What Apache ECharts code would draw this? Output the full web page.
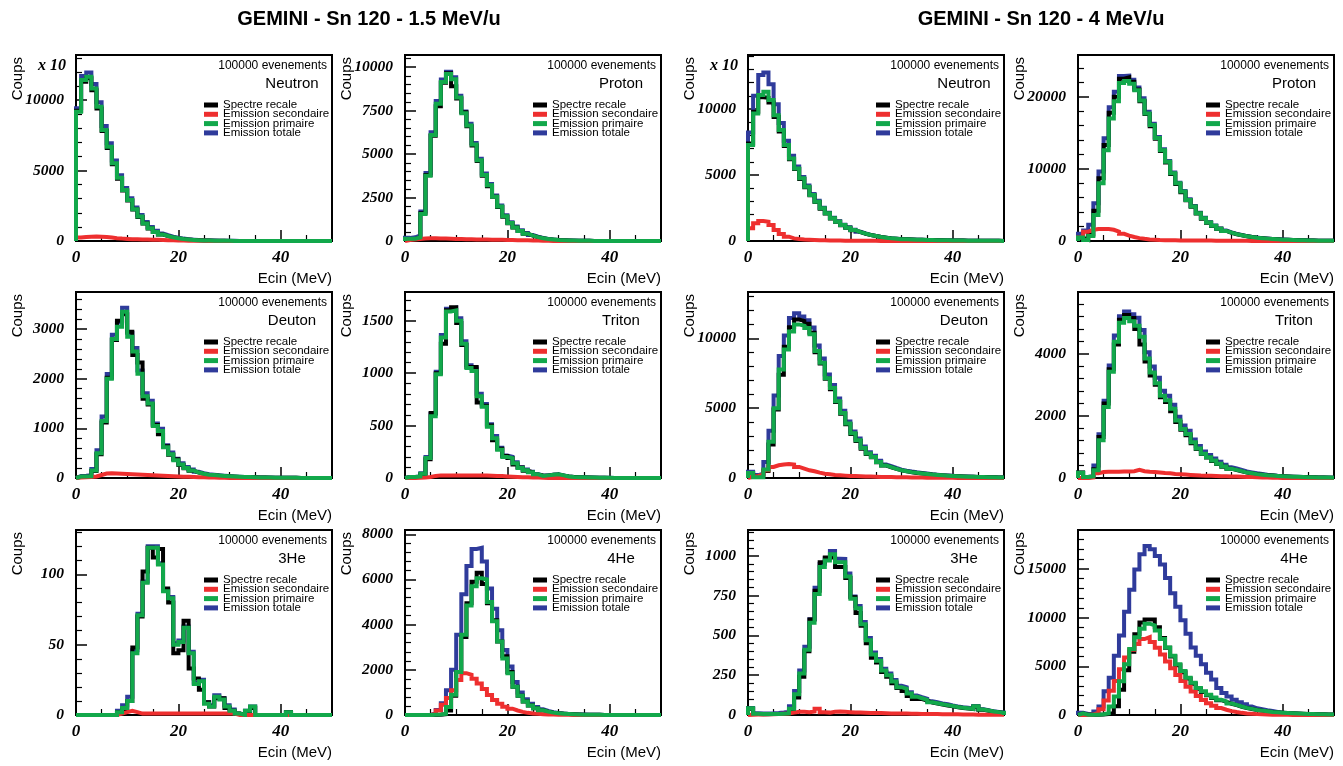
<!DOCTYPE html>
<html><head><meta charset="utf-8">
<script src="https://cdn.jsdelivr.net/npm/echarts@6/dist/echarts.min.js"></script>
<style>html,body{margin:0;padding:0;background:#fff}#c{width:1343px;height:766px}</style>
</head><body><div id="c"></div>
<script>
// ---------- data ----------
const binEdges = [0,1,2,3,4,5,6,7,8,9,10,11,12,13,14,15,16,17,18,19,20,21,22,23,24,25,26,27,28,29,30,31,32,33,34,35,36,37,38,39,40,41,42,43,44,45,46,47,48,49,50];
const mainTitles = ['GEMINI - Sn 120 - 1.5 MeV/u', 'GEMINI - Sn 120 - 4 MeV/u'];
const eventLabel = '100000 evenements';
const particles = ['Neutron','Proton','Neutron','Proton','Deuton','Triton','Deuton','Triton','3He','4He','3He','4He'];
const seriesNames = ['Spectre recale','Emission secondaire','Emission primaire','Emission totale'];
const xTickStep = 20;
const yTickStep = [5000, 2500, 5000, 10000, 1000, 500, 5000, 2000, 50, 2000, 250, 5000];
const yTop = [13200, 10700, 14100, 25800, 3750, 1775, 13320, 5990, 131.6, 8190, 1162, 18990];
const scaleNote = 'x 10';

const N15_recale = [9250,11300,11550,10700,9400,7800,6600,5450,4420,3580, 2880,2230,1700,1240,890,630,460,350,255,185, 135,98,72,53,39,29,21,15,11,8, 6,5,4,3,2,2,1,1,1,0, 0,0,0,0,0,0,0,0,0,0];
const N15_secondaire = [250,290,310,320,310,290,250,200,170,150, 130,120,110,100,90,80,70,60,50,40, 30,25,20,15,10,8,6,5,4,3, 2,2,1,1,0,0,0,0,0,0, 0,0,0,0,0,0,0,0,0,0];
const N15_primaire = [9170,11420,11650,10830,9530,7870,6690,5510,4490,3620, 2910,2250,1730,1250,900,640,470,355,260,190, 140,100,75,55,40,30,22,16,12,9, 7,5,4,3,2,2,1,1,1,0, 0,0,0,0,0,0,0,0,0,0];
const N15_totale = [9420,11710,11960,11150,9840,8160,6940,5710,4660,3770, 3040,2370,1840,1350,990,720,540,415,310,230, 170,125,95,70,50,38,28,21,16,12, 9,7,5,4,2,2,1,1,1,0, 0,0,0,0,0,0,0,0,0,0];

const P15_recale = [120,120,190,1600,3800,6050,7750,9100,9650,8900, 8200,7400,6600,5500,4600,3750,3150,2550,1950,1400, 1020,770,570,415,305,215,155,108,78,54, 39,29,21,15,11,8,6,5,4,3, 2,2,1,1,1,0,0,0,0,0];
const P15_secondaire = [50,80,120,150,160,160,150,140,130,120, 110,100,95,90,85,80,75,70,65,60, 55,50,45,40,32,24,16,10,5,2, 1,0,0,0,0,0,0,0,0,0, 0,0,0,0,0,0,0,0,0,0];
const P15_primaire = [130,130,200,1550,3750,6100,7900,9150,9600,9300, 8250,7350,6650,5550,4650,3800,3200,2550,1980,1420, 1030,780,580,420,310,220,160,110,80,55, 40,30,22,16,12,9,7,5,4,3, 2,2,1,1,1,0,0,0,0,0];
const P15_totale = [180,210,320,1700,3910,6260,8050,9290,9730,9420, 8360,7450,6745,5640,4735,3880,3275,2620,2045,1480, 1085,830,625,460,342,244,176,120,85,57, 41,30,22,16,12,9,7,5,4,3, 2,2,1,1,1,0,0,0,0,0];

const N4_recale = [7400,9800,10900,10850,10500,9400,8300,7200,6200,5450, 4700,4080,3460,2950,2450,2080,1700,1450,1200,1000, 820,670,550,450,375,298,248,198,168,138, 128,113,99,89,79,69,61,54,47,41, 36,31,27,23,20,17,14,12,10,8];
const N4_secondaire = [960,1340,1515,1465,1210,830,530,330,200,150, 110,90,75,62,52,45,38,32,27,23, 20,17,14,12,10,8,7,6,5,4, 3,3,2,2,1,1,1,0,0,0, 0,0,0,0,0,0,0,0,0,0];
const N4_primaire = [7270,9670,11060,11310,10680,9540,8410,7270,6260,5500, 4750,4115,3485,2980,2475,2100,1720,1465,1210,1010, 830,680,555,455,380,300,250,200,170,140, 130,115,100,90,80,70,62,55,48,42, 37,32,28,24,21,18,15,13,11,9];
const N4_totale = [8230,11010,12575,12775,11890,10370,8940,7600,6460,5650, 4860,4205,3560,3042,2527,2145,1758,1497,1237,1033, 850,697,569,467,390,308,257,206,175,144, 133,118,102,92,81,71,63,55,48,42, 37,32,28,24,21,18,15,13,11,9];

const P4_recale = [450,200,900,4200,8700,13300,17800,20000,22500,22700, 22100,21000,19400,17600,15900,14200,12500,10900,9300,7900, 6750,5650,4750,3800,3100,2520,2080,1690,1390,1140, 940,790,650,545,455,385,325,275,228,188, 158,128,108,88,73,59,49,39,31,24];
const P4_secondaire = [500,1300,1550,1650,1650,1650,1550,1300,1000,750, 550,400,300,220,170,130,110,100,90,85, 80,75,70,65,60,55,50,45,40,35, 30,25,20,15,12,10,8,6,5,4, 3,2,1,1,0,0,0,0,0,0];
const P4_primaire = [500,150,700,3600,8000,12600,17000,19400,21900,22200, 21800,20900,19500,17700,16100,14300,12600,11000,9400,8000, 6850,5700,4800,3850,3150,2550,2100,1700,1400,1150, 950,800,660,550,460,390,330,280,230,190, 160,130,110,90,75,60,50,40,32,25];
const P4_totale = [1000,1450,2250,5250,9650,14250,18550,20700,22900,22950, 22350,21300,19800,17920,16270,14430,12710,11100,9490,8085, 6930,5775,4870,3915,3210,2605,2150,1745,1440,1185, 980,825,680,565,472,400,338,286,235,194, 163,132,111,91,75,60,50,40,32,25];

const D15_recale = [25,25,30,140,480,1120,2020,2780,3170,3300, 2950,2480,2330,1600,1480,1070,880,640,470,380, 260,195,148,108,83,63,55,45,38,32, 27,22,19,16,13,11,9,7,6,5, 4,3,3,2,2,1,1,1,0,0];
const D15_secondaire = [10,15,20,30,60,90,95,90,85,80, 75,70,65,60,55,50,45,40,35,30, 27,24,20,17,14,11,8,6,4,2, 1,0,0,0,0,0,0,0,0,0, 0,0,0,0,0,0,0,0,0,0];
const D15_primaire = [30,30,35,150,500,1150,2000,2800,3050,3350, 2850,2550,2100,1650,1500,1050,950,620,480,360, 270,200,150,110,85,65,60,50,42,36, 30,25,21,18,15,12,10,8,7,6, 5,4,3,2,2,1,1,1,0,0];
const D15_totale = [40,45,55,180,560,1240,2095,2890,3135,3430, 2925,2620,2165,1710,1555,1100,995,660,515,390, 297,224,170,127,99,76,68,56,46,38, 31,25,21,18,15,12,10,8,7,6, 5,4,3,2,2,1,1,1,0,0];

const T15_recale = [8,8,12,35,180,620,1000,1280,1600,1630, 1480,1270,1060,1060,720,690,500,360,280,210, 190,130,100,70,55,30,25,22,30,30, 22,14,10,7,5,4,3,2,2,1, 1,1,0,0,0,0,0,0,0,0];
const T15_secondaire = [0,0,2,5,10,20,25,25,25,25, 25,25,25,25,25,25,22,20,18,15, 12,10,8,6,5,4,2,1,0,0, 0,0,0,0,0,0,0,0,0,0, 0,0,0,0,0,0,0,0,0,0];
const T15_primaire = [10,10,15,40,190,590,990,1340,1590,1600, 1500,1280,1050,1020,780,680,490,380,270,200, 190,140,95,75,55,35,20,25,30,35, 25,15,10,8,6,5,4,3,2,2, 1,1,1,0,0,0,0,0,0,0];
const T15_totale = [10,10,17,45,200,610,1015,1365,1615,1625, 1525,1305,1075,1045,805,705,512,400,288,215, 202,150,103,81,60,39,22,26,30,35, 25,15,10,8,6,5,4,3,2,2, 1,1,1,0,0,0,0,0,0,0];

const D4_recale = [330,100,80,500,2400,4900,7400,9400,10800,11350, 11250,11050,10400,9000,8200,7100,6350,5450,4600,3850, 3150,2650,2100,1720,1480,1130,890,770,650,545, 475,415,365,325,285,245,215,188,163,143, 123,108,94,84,74,64,54,47,41,35];
const D4_secondaire = [100,150,250,550,790,910,960,1010,960,790, 670,550,480,385,310,265,215,190,170,150, 135,120,110,100,90,80,72,65,58,52, 46,40,35,30,26,22,18,15,12,10, 8,6,5,4,3,2,2,1,1,0];
const D4_primaire = [350,60,50,600,2600,5000,7770,9200,10500,11000, 10900,10750,10300,9100,8250,7150,6450,5500,4650,3900, 3200,2700,2150,1750,1500,1150,900,780,660,550, 480,420,370,330,290,250,220,190,165,145, 125,110,95,85,75,65,55,48,42,36];
const D4_totale = [450,210,300,1150,3390,5910,8730,10210,11460,11790, 11570,11300,10780,9485,8560,7415,6665,5690,4820,4050, 3335,2820,2260,1850,1590,1230,972,845,718,602, 526,460,405,360,316,272,238,205,177,155, 133,116,100,89,78,67,57,49,43,36];

const T4_recale = [180,20,40,280,1320,2400,3500,4300,5100,5250, 5150,4800,4300,3750,3300,3000,2600,2450,2150,1800, 1550,1380,1120,930,770,660,550,450,365,300, 255,215,172,147,123,106,90,78,67,57, 49,42,36,30,26,21,18,15,12,10];
const T4_secondaire = [0,0,20,150,190,200,200,200,210,210, 220,260,220,200,190,180,160,150,130,120, 110,100,90,80,75,70,65,60,55,50, 45,40,35,30,25,20,15,10,5,3, 2,1,0,0,0,0,0,0,0,0];
const T4_primaire = [170,30,50,250,1215,2290,3420,4390,5000,5150, 5050,4900,4550,3850,3400,3050,2650,2500,2230,1850, 1580,1420,1150,950,780,670,560,460,370,300, 260,220,175,150,125,108,92,80,68,58, 50,43,37,31,27,22,19,16,13,11];
const T4_totale = [170,30,70,400,1405,2490,3620,4590,5210,5360, 5270,5160,4770,4050,3590,3230,2810,2650,2360,1970, 1690,1520,1240,1030,855,740,625,520,425,350, 305,260,210,180,150,128,107,90,73,61, 52,44,37,31,27,22,19,16,13,11];

const He3_15_recale = [0,0,0,0,0,0,0,0,2,4, 10,48,70,102,119,112,118,90,80,44, 46,67,33,26,18,9,6,12,12,5, 3,1,0,1,5,0,0,0,0,0, 0,2,0,0,0,0,0,0,0,0];
const He3_15_secondaire = [0,0,0,0,0,0,0,0,1,2, 3,2,1,1,1,1,1,1,1,1, 1,1,1,1,1,1,1,1,1,1, 1,0,0,0,0,0,0,0,0,0, 0,0,0,0,0,0,0,0,0,0];
const He3_15_primaire = [0,0,0,0,0,0,0,0,2,5, 10,44,71,94,119,119,107,88,83,50, 52,62,44,22,24,8,6,13,11,6, 3,1,0,3,6,0,0,0,0,0, 0,2,0,0,0,0,0,0,0,0];
const He3_15_totale = [0,0,0,0,0,0,0,0,3,7, 13,46,72,95,120,120,108,89,84,51, 53,63,45,23,25,9,7,14,12,7, 4,1,0,3,6,0,0,0,0,0, 0,2,0,0,0,0,0,0,0,0];

const He4_15_recale = [0,0,0,0,0,5,15,40,200,850, 1900,3450,4950,5900,6300,5800,4950,4200,3250,2600, 1900,1250,850,600,420,300,210,150,105,75, 55,40,28,20,15,11,8,6,4,3, 2,1,1,0,0,0,0,0,0,0];
const He4_15_secondaire = [0,0,0,0,0,60,200,450,750,1100, 1550,1850,1780,1600,1400,1150,880,660,500,370, 280,200,140,95,70,50,36,26,18,13, 9,6,4,3,2,1,1,0,0,0, 0,0,0,0,0,0,0,0,0,0];
const He4_15_primaire = [0,0,0,0,0,10,20,50,350,900, 1900,3550,4850,5700,6050,6000,5000,4150,3250,2500, 1850,1250,850,600,420,300,210,150,105,75, 55,40,28,20,15,11,8,6,4,3, 2,1,1,0,0,0,0,0,0,0];
const He4_15_totale = [0,0,0,0,0,70,220,520,1100,2000, 3550,5350,6600,7350,7400,6800,5600,4700,3750,2880, 2150,1460,1000,700,500,350,250,176,123,88, 64,46,32,23,17,12,9,6,4,3, 2,1,1,0,0,0,0,0,0,0];

const He3_4_recale = [40,6,5,5,6,6,7,9,30,110, 240,400,600,780,960,990,990,930,930,860, 740,640,560,450,360,330,270,240,200,170, 150,120,100,100,90,78,72,66,60,54, 48,44,40,37,52,33,27,21,17,13];
const He3_4_secondaire = [2,3,3,4,5,6,8,10,15,20, 20,18,22,40,18,15,20,22,20,18, 15,15,14,13,12,12,11,10,10,9, 9,8,8,7,7,6,6,5,5,4, 4,3,3,3,2,2,2,1,1,1];
const He3_4_primaire = [42,8,6,6,6,7,8,10,40,130, 260,410,580,760,930,970,1010,960,960,870, 730,670,570,470,380,340,280,250,210,175, 165,135,115,105,95,80,74,68,62,56, 50,46,42,38,55,34,28,22,18,14];
const He3_4_totale = [44,11,9,10,11,13,16,20,55,150, 280,428,602,800,948,985,1030,982,980,888, 745,685,584,483,392,352,291,260,220,184, 174,143,123,112,102,86,80,73,67,60, 54,49,45,41,57,36,30,23,19,15];

const He4_4_recale = [150,20,20,20,50,100,200,900,2600,4600, 6500,8300,9500,9800,9800,9000,7900,6900,6000,5100, 4400,3750,3200,2700,2350,2020,1750,1520,1350,1150, 1010,850,710,610,510,440,370,305,275,235, 205,175,148,128,108,93,78,68,58,48];
const He4_4_secondaire = [0,0,50,250,600,1500,2500,3500,4700,5900, 6700,7300,7800,8000,7500,6900,6200,5500,4800,4100, 3500,2900,2400,1950,1550,1200,950,720,540,400, 300,220,160,120,90,65,48,35,25,18, 13,9,6,4,3,2,1,1,0,0];
const He4_4_primaire = [170,30,30,30,80,170,870,1900,3470,5200, 6770,7990,8850,9370,9200,8680,7810,6940,6080,5210, 4510,3820,3300,2780,2430,2080,1800,1560,1390,1180, 1040,870,730,625,520,450,380,310,280,240, 210,180,150,130,110,95,80,70,60,50];
const He4_4_totale = [243,100,120,347,868,2430,3820,6080,8160,10590, 12850,14930,16490,17360,17010,16320,15450,14060,12500,11110, 9720,8330,6940,6080,5210,4340,3650,2780,2260,1910, 1560,1320,1110,870,690,590,490,420,310,240, 175,150,120,100,80,65,50,40,30,25];

// panels in row-major order: [recale, secondaire, primaire, totale]
const panelData = [
  [N15_recale, N15_secondaire, N15_primaire, N15_totale],
  [P15_recale, P15_secondaire, P15_primaire, P15_totale],
  [N4_recale, N4_secondaire, N4_primaire, N4_totale],
  [P4_recale, P4_secondaire, P4_primaire, P4_totale],
  [D15_recale, D15_secondaire, D15_primaire, D15_totale],
  [T15_recale, T15_secondaire, T15_primaire, T15_totale],
  [D4_recale, D4_secondaire, D4_primaire, D4_totale],
  [T4_recale, T4_secondaire, T4_primaire, T4_totale],
  [He3_15_recale, He3_15_secondaire, He3_15_primaire, He3_15_totale],
  [He4_15_recale, He4_15_secondaire, He4_15_primaire, He4_15_totale],
  [He3_4_recale, He3_4_secondaire, He3_4_primaire, He3_4_totale],
  [He4_4_recale, He4_4_secondaire, He4_4_primaire, He4_4_totale]
];

// ---------- layout / style ----------
const colLeft = [76, 405, 748, 1078];
const rowTop = [55, 292, 530];
const rowH = [186, 186, 185];
const plotW = 256;
const seriesColors = ['#000000', '#ee2f2f', '#12a84b', '#2f3b9b'];
const drawOrder = [3, 0, 1, 2]; // totale, recale, secondaire, primaire (primaire on top)
const serifBI = {fontFamily: 'Liberation Serif', fontStyle: 'italic', fontWeight: 'bold', color: '#000'};
const plainNumber = v => String(v);

function stepData(vals) {
  const pts = [[binEdges[0], 0]];
  for (let i = 0; i < vals.length; i++) pts.push([binEdges[i], vals[i]]);
  pts.push([binEdges[vals.length], vals[vals.length - 1]]);
  pts.push([binEdges[vals.length], 0]);
  return pts;
}

const grids = [], xAxes = [], yAxes = [], series = [], legends = [];
const titles = [
  {text: mainTitles[0], left: 369, top: 9, textAlign: 'center', textVerticalAlign: 'top', padding: 0,
   textStyle: {fontFamily: 'Liberation Sans', fontWeight: 'bold', fontSize: 20, color: '#000'}},
  {text: mainTitles[1], left: 1041, top: 9, textAlign: 'center', textVerticalAlign: 'top', padding: 0,
   textStyle: {fontFamily: 'Liberation Sans', fontWeight: 'bold', fontSize: 20, color: '#000'}}
];

panelData.forEach((sets, i) => {
  const r = Math.floor(i / 4), c = i % 4;
  const L = colLeft[c], T = rowTop[r], H = rowH[r];
  grids.push({left: L, top: T, width: plotW, height: H, show: true, borderColor: '#000', borderWidth: 2, backgroundColor: 'transparent'});
  xAxes.push({
    gridIndex: i, type: 'value', min: 0, max: binEdges[binEdges.length - 1], interval: xTickStep,
    axisLine: {show: true, onZero: false, lineStyle: {color: '#000', width: 2}},
    axisTick: {show: true, inside: true, length: 11, lineStyle: {color: '#000', width: 1.5}},
    minorTick: {show: true, splitNumber: 4, length: 6, lineStyle: {color: '#000', width: 1.2}},
    splitLine: {show: false},
    axisLabel: Object.assign({fontSize: 17, margin: 8, showMaxLabel: false, formatter: plainNumber}, serifBI),
    name: 'Ecin (MeV)', nameLocation: 'end', nameGap: 0, nameMoveOverlap: false,
    nameTextStyle: {fontFamily: 'Liberation Sans', fontSize: 15, color: '#000', align: 'right', verticalAlign: 'top', padding: [30, 0, 0, 0]}
  });
  yAxes.push({
    gridIndex: i, type: 'value', min: 0, max: yTop[i], interval: yTickStep[i],
    axisLine: {show: true, onZero: false, lineStyle: {color: '#000', width: 2}},
    axisTick: {show: true, inside: true, length: 11, lineStyle: {color: '#000', width: 1.5}},
    minorTick: {show: true, splitNumber: 5, length: 6, lineStyle: {color: '#000', width: 1.2}},
    splitLine: {show: false},
    axisLabel: Object.assign({fontSize: 15.5, margin: 12, showMaxLabel: false, formatter: plainNumber}, serifBI),
    name: 'Coups', nameLocation: 'end', nameGap: -2, nameRotate: 90, nameMoveOverlap: false,
    nameTextStyle: {fontFamily: 'Liberation Sans', fontSize: 15, color: '#000', align: 'right', verticalAlign: 'bottom', padding: [0, 0, 51, 0]}
  });
  drawOrder.forEach(k => {
    series.push({
      name: seriesNames[k], type: 'line', step: 'end', xAxisIndex: i, yAxisIndex: i,
      data: stepData(sets[k]), symbol: 'none', showSymbol: false, silent: true, clip: true,
      color: seriesColors[k], itemStyle: {color: seriesColors[k]},
      lineStyle: {color: seriesColors[k], width: 4, join: 'miter'}
    });
  });
  legends.push({
    orient: 'vertical', left: L + 128, top: T + 44, padding: 0, itemGap: -2.7,
    itemWidth: 14, itemHeight: 5, icon: 'rect', selectedMode: false, data: seriesNames,
    textStyle: {fontFamily: 'Liberation Sans', fontSize: 11.5, lineHeight: 9.3, color: '#000'}
  });
  titles.push({text: eventLabel, left: L + plotW - 5, top: T + 5, textAlign: 'right', textVerticalAlign: 'top', padding: 0,
    textStyle: {fontFamily: 'Liberation Sans', fontWeight: 'normal', fontSize: 12, color: '#000'}});
  titles.push({text: particles[i], left: L + 216, top: T + 21, textAlign: 'center', textVerticalAlign: 'top', padding: 0,
    textStyle: {fontFamily: 'Liberation Sans', fontWeight: 'normal', fontSize: 15, color: '#000'}});
  if (particles[i] === 'Neutron') {
    titles.push({text: scaleNote, left: L - 24, top: T + 3, textAlign: 'center', textVerticalAlign: 'top', padding: 0,
      textStyle: Object.assign({fontSize: 16}, serifBI)});
  }
});

const chart = echarts.init(document.getElementById('c'), null, {renderer: 'canvas', width: 1343, height: 766});
chart.setOption({
  animation: false,
  backgroundColor: '#ffffff',
  title: titles,
  legend: legends,
  grid: grids,
  xAxis: xAxes,
  yAxis: yAxes,
  series: series
});
</script>
</body></html>
